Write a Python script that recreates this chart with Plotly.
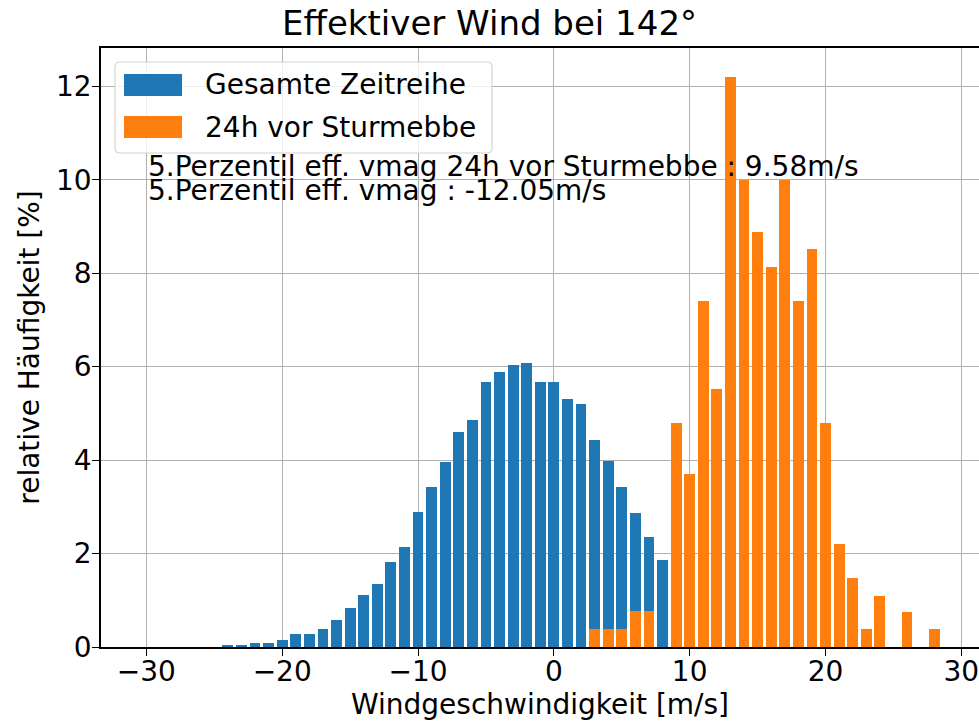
import plotly.graph_objects as go

# bin centres [m/s] and relative frequencies [%]
x_gesamt = list(range(-24, 9))
h_gesamt = [0.05, 0.05, 0.09, 0.09, 0.16, 0.28, 0.28, 0.39, 0.58, 0.84, 1.12, 1.34, 1.83,
            2.13, 2.89, 3.42, 3.96, 4.60, 4.86, 5.67, 5.89, 6.04, 6.08, 5.67, 5.67,
            5.31, 5.20, 4.42, 3.98, 3.42, 2.86, 2.36, 1.87]

x_sturm = [3, 4, 5, 6, 7, 9, 10, 11, 12, 13, 14, 15, 16, 17, 18, 19, 20, 21, 22, 23, 24, 26, 28]
h_sturm = [0.38, 0.38, 0.38, 0.77, 0.77, 4.80, 3.70, 7.41, 5.53, 12.21, 10.0, 8.89, 8.13,
           10.0, 7.41, 8.51, 4.80, 2.20, 1.48, 0.38, 1.10, 0.75, 0.38]

x_ticks = [-30, -20, -10, 0, 10, 20, 30]
y_ticks = [0, 2, 4, 6, 8, 10, 12]

labels = ["Gesamte Zeitreihe", "24h vor Sturmebbe"]
colors = ["#1f77b4", "#ff7f0e"]
p5_sturm = 9.58
p5_gesamt = -12.05

FONT = "DejaVu Sans"
FS = 28
W, H = 979, 722
L, R, T, B = 101, 0, 48, 75


def px(xp):
    return (xp - L) / (W - L - R)


def py(yp):
    return (H - B - yp) / (H - T - B)


def rounded_rect(x0, y0, x1, y1, r=5):
    # x0,y0 top-left in pixels -> path in paper coords
    rx = r / (W - L - R)
    ry = r / (H - T - B)
    a, b, c, d = px(x0), py(y1), px(x1), py(y0)
    return (f"M{a + rx},{b} L{c - rx},{b} Q{c},{b} {c},{b + ry} L{c},{d - ry} "
            f"Q{c},{d} {c - rx},{d} L{a + rx},{d} Q{a},{d} {a},{d - ry} "
            f"L{a},{b + ry} Q{a},{b} {a + rx},{b} Z")


fig = go.Figure()
fig.add_trace(go.Bar(x=x_gesamt, y=h_gesamt, width=0.8, marker_color=colors[0],
                     marker_line_width=0, name=labels[0]))
fig.add_trace(go.Bar(x=x_sturm, y=h_sturm, width=0.8, marker_color=colors[1],
                     marker_line_width=0, name=labels[1]))

# legend drawn by hand (matplotlib-like wide patches)
shapes = [dict(type="path", xref="paper", yref="paper", path=rounded_rect(115, 62, 492, 153),
               line=dict(color="#d4d4d4", width=1.2), fillcolor="rgba(255,255,255,0.8)",
               layer="above")]
annotations = []
for i, (lab, col) in enumerate(zip(labels, colors)):
    y0 = 74 + i * 42
    shapes.append(dict(type="rect", xref="paper", yref="paper", x0=px(124), x1=px(182),
                       y0=py(y0 + 22), y1=py(y0), fillcolor=col, line_width=0, layer="above"))
    annotations.append(dict(x=px(203), y=py(y0 + 11), xref="paper", yref="paper", text=lab,
                            showarrow=False, xanchor="left", yanchor="middle",
                            font=dict(family=FONT, size=FS, color="#000")))

annotations.append(dict(x=-30, y=10.28, xref="x", yref="y", showarrow=False,
                        text=f"5.Perzentil eff. vmag 24h vor Sturmebbe : {p5_sturm}m/s",
                        xanchor="left", yanchor="middle",
                        font=dict(family=FONT, size=FS, color="#000")))
annotations.append(dict(x=-30, y=9.76, xref="x", yref="y", showarrow=False,
                        text=f"5.Perzentil eff. vmag : {p5_gesamt}m/s",
                        xanchor="left", yanchor="middle",
                        font=dict(family=FONT, size=FS, color="#000")))

axis_style = dict(showline=True, linecolor="black", linewidth=1.5, mirror=True,
                  ticks="outside", ticklen=7, tickwidth=1.3, tickcolor="black",
                  showgrid=True, gridcolor="#b0b0b0", gridwidth=1.2, zeroline=False,
                  automargin=False, layer="above traces", ticklabeloverflow="allow",
                  tickfont=dict(family=FONT, size=FS, color="#000"))

fig.update_layout(
    width=W, height=H,
    margin=dict(l=L, r=R, t=T, b=B),
    plot_bgcolor="white", paper_bgcolor="white",
    barmode="overlay", bargap=0, showlegend=False,
    title=dict(text="Effektiver Wind bei 142°", x=px(540), xanchor="center",
               y=0.985, yanchor="top", font=dict(family=FONT, size=34, color="#000")),
    xaxis=dict(range=[-33.34, 31.3], tickvals=x_ticks, ticklabelstandoff=-8,
               ticktext=[str(v).replace("-", "\u2212") for v in x_ticks],
               title=dict(text="Windgeschwindigkeit [m/s]", standoff=2,
                          font=dict(family=FONT, size=FS, color="#000")),
               **axis_style),
    yaxis=dict(range=[0, 12.82], tickvals=y_ticks, ticklabelstandoff=-5,
               title=dict(text="relative Häufigkeit [%]", standoff=8,
                          font=dict(family=FONT, size=FS, color="#000")),
               **axis_style),
    shapes=shapes,
    annotations=annotations,
)

# page has a default 8px body margin; drop it so the figure sits at the top-left corner
fig.write_html("out.html", config={"displayModeBar": False},
               post_script="document.body.style.margin='0';")
